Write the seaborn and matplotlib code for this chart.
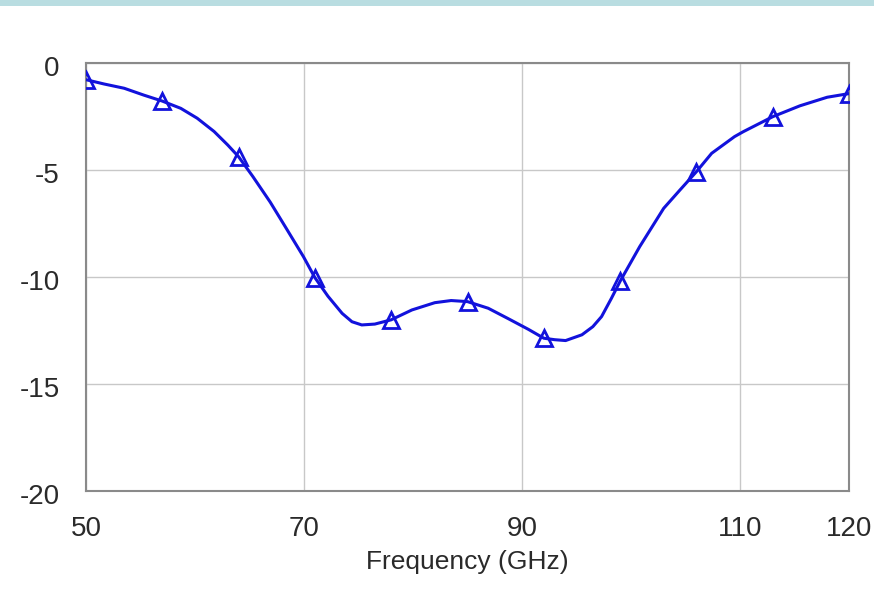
import matplotlib
matplotlib.use("Agg")
import matplotlib.pyplot as plt
from matplotlib.patches import Rectangle
from matplotlib.transforms import ScaledTranslation
import seaborn as sns
import pandas as pd

# S-parameter response (dB) versus frequency (GHz)
freq_ghz = [50.0, 51.65, 53.5, 55.3, 57.0, 58.7, 60.2, 61.75, 63.0, 64.0,
            65.3, 66.9, 68.4, 69.95, 71.0, 72.2, 73.5, 74.4, 75.3, 76.5,
            78.0, 79.9, 82.0, 83.5, 85.0, 86.9, 88.75, 90.6, 92.0, 93.0,
            94.0, 95.5, 96.5, 97.3, 98.2, 99.0, 100.8, 103.0, 104.5, 106.0,
            107.4, 109.5, 110.3, 113.0, 115.5, 118.0, 120.0]
s_db = [-0.78, -0.98, -1.18, -1.50, -1.78, -2.12, -2.58, -3.20, -3.83, -4.38,
        -5.30, -6.50, -7.75, -9.05, -10.03, -10.90, -11.70, -12.09, -12.24, -12.20,
        -12.00, -11.54, -11.20, -11.10, -11.15, -11.46, -11.95, -12.45, -12.86, -12.93,
        -12.97, -12.70, -12.32, -11.85, -11.00, -10.20, -8.58, -6.79, -5.93, -5.08,
        -4.22, -3.44, -3.21, -2.51, -2.00, -1.60, -1.43]

# marked sample points
marker_ghz = [50, 57, 64, 71, 78, 85, 92, 99, 106, 113, 120]
marker_db = [-0.78, -1.78, -4.38, -10.03, -12.00, -11.15, -12.86, -10.20, -5.08, -2.51, -1.43]

x_ticks = [50, 70, 90, 110, 120]
y_ticks = [0, -5, -10, -15, -20]

sns.set_style("white")
plt.rcParams["font.family"] = ["Liberation Sans", "DejaVu Sans"]

fig = plt.figure(figsize=(8.74, 5.93), dpi=100)
fig.patch.set_facecolor("white")
fig.patches.append(Rectangle((0, 1 - 6 / 593), 1, 6 / 593, transform=fig.transFigure,
                             facecolor="#b9dde1", edgecolor="none", zorder=0))

ax = fig.add_axes([86 / 874, 1 - 491 / 593, (849 - 86) / 874, (491 - 63) / 593])

curve = pd.DataFrame({"f": freq_ghz, "s": s_db})
marks = pd.DataFrame({"f": marker_ghz, "s": marker_db})

line_color = "#1212dc"
sns.lineplot(data=curve, x="f", y="s", sort=False, ax=ax, color=line_color,
             linewidth=2.2, zorder=3, solid_joinstyle="round", solid_capstyle="round")
sns.lineplot(data=marks, x="f", y="s", sort=False, ax=ax, linestyle="",
             marker="^", markersize=11, markerfacecolor="none",
             markeredgecolor=line_color, markeredgewidth=2.0, zorder=4)

ax.set_xlim(50, 120)
ax.set_ylim(-20, 0)
ax.set_xticks(x_ticks)
ax.set_yticks(y_ticks)
ax.set_xticklabels([str(t) for t in x_ticks])
ax.set_yticklabels([str(t) for t in y_ticks])
ax.grid(True, color="#c8c8c8", linewidth=1.0)
ax.set_axisbelow(True)
for sp in ax.spines.values():
    sp.set_visible(True)
    sp.set_color("#8a8a8a")
    sp.set_linewidth(1.5)
ax.tick_params(axis="both", length=0, labelsize=20, colors="#2a2a2a")
ax.tick_params(axis="x", pad=18)
ax.tick_params(axis="y", pad=19)
shift_down = ScaledTranslation(0, -3 / 100, fig.dpi_scale_trans)
for lab in ax.get_yticklabels():
    lab.set_transform(lab.get_transform() + shift_down)
ax.set_xlabel("Frequency (GHz)", fontsize=19, color="#2a2a2a", labelpad=6)
ax.set_ylabel("")

fig.savefig("out.png", dpi=100)
